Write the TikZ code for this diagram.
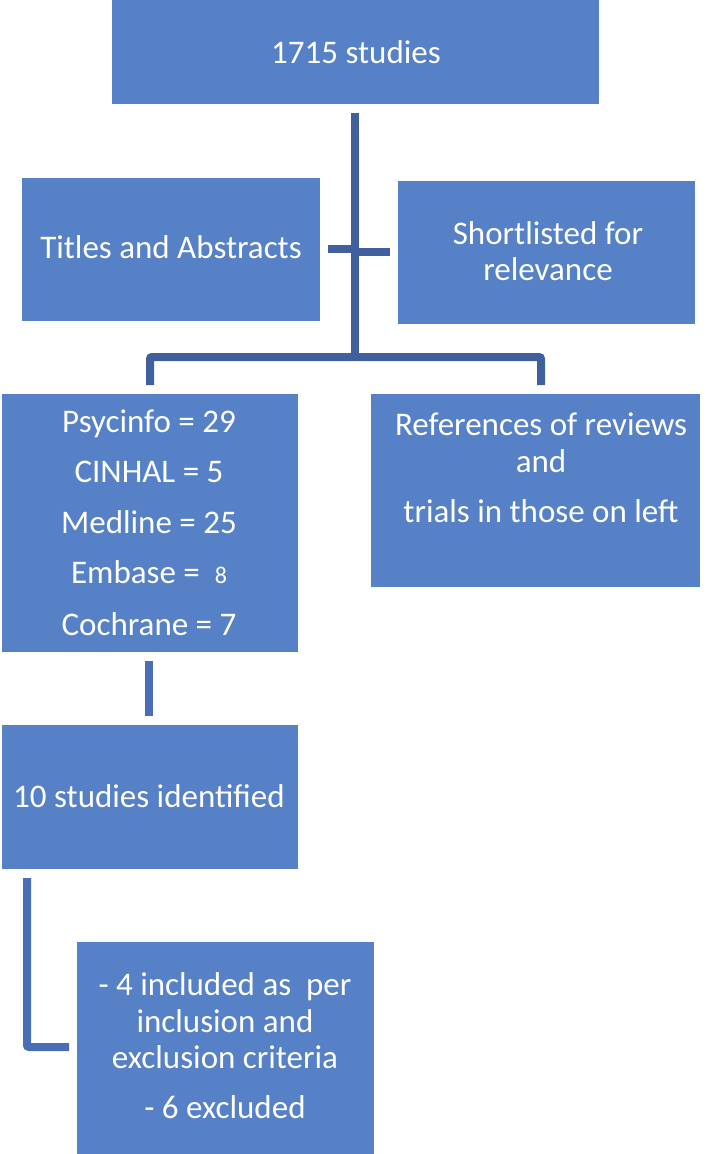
\documentclass[tikz,border=0pt]{standalone}
\usepackage{fontspec}
\setmainfont{Carlito}
\usetikzlibrary{calc}
\definecolor{boxblue}{HTML}{5681C7}
\definecolor{linedark}{HTML}{40609D}
\definecolor{linelight}{HTML}{4A6EB6}
\tikzset{
  box/.style={fill=boxblue, draw=none, inner sep=0pt, anchor=north west},
  txt/.style={text=white, anchor=base, inner sep=0pt, font=\fontsize{33}{40}\selectfont},
  conn/.style={draw=linedark, line width=8pt, rounded corners=2pt},
  connlight/.style={draw=linelight, line width=8pt, rounded corners=2pt}
}
\begin{document}
\begin{tikzpicture}[x=1pt, y=-1pt]
\useasboundingbox (0,0) rectangle (711,1154);
% boxes
\node[box, minimum width=487pt, minimum height=104pt] (top) at (112,0) {};
\node[box, minimum width=298pt, minimum height=143pt] (titles) at (22,178) {};
\node[box, minimum width=297pt, minimum height=143pt] (short) at (398,181) {};
\node[box, minimum width=296pt, minimum height=258pt] (psy) at (2,394) {};
\node[box, minimum width=329pt, minimum height=193pt] (refs) at (371,394) {};
\node[box, minimum width=296pt, minimum height=144pt] (ten) at (2,725) {};
\node[box, minimum width=297pt, minimum height=212pt] (final) at (77,942) {};
% texts
\node[txt] (t1) at (356,63) {1715 studies};
\node[txt] (t2) at (171,258) {Titles and Abstracts};
\node[txt] (t3a) at (548,244) {Shortlisted for};
\node[txt] (t3b) at (548,280) {relevance};
\node[txt] (p1) at (149,432) {Psycinfo = 29};
\node[txt] (p2) at (149,482) {CINHAL = 5};
\node[txt] (p3) at (149,533) {Medline = 25};
\node[txt] (p4) at (149,583) {Embase =\ \ {\fontsize{24}{28}\selectfont 8}};
\node[txt] (p5) at (149,635) {Cochrane = 7};
\node[txt] (r1) at (541,435) {References of reviews};
\node[txt] (r2) at (541,472) {and};
\node[txt] (r3) at (541,522) {trials in those on left};
\node[txt] (s1) at (149,807) {10 studies identified};
\node[txt] (f1) at (225,995) {- 4 included as\ \ per};
\node[txt] (f2) at (225,1032) {inclusion and};
\node[txt] (f3) at (225,1068) {exclusion criteria};
\node[txt] (f4) at (225,1118) {- 6 excluded};
% connector points
\coordinate (a0) at (355,113);
\coordinate (a1) at (355,357);
\coordinate (cl) at (328,249);
\coordinate (cm) at (355,249);
\coordinate (cm2) at (355,252);
\coordinate (cr) at (390,252);
\coordinate (bl) at (150,385);
\coordinate (br) at (541,385);
\coordinate (d0) at (149,661);
\coordinate (d1) at (149,716);
\coordinate (e0) at (27,878);
\coordinate (e1) at (69,1047);
% connectors
\draw[conn] (a0) -- (a1);
\draw[conn, rounded corners=0pt] (cl) -- (cm);
\draw[conn, rounded corners=0pt] (cm2) -- (cr);
\draw[conn] (bl) |- (a1) -| (br);
\draw[connlight] (d0) -- (d1);
\draw[connlight] (e0) |- (e1);
\end{tikzpicture}
\end{document}
